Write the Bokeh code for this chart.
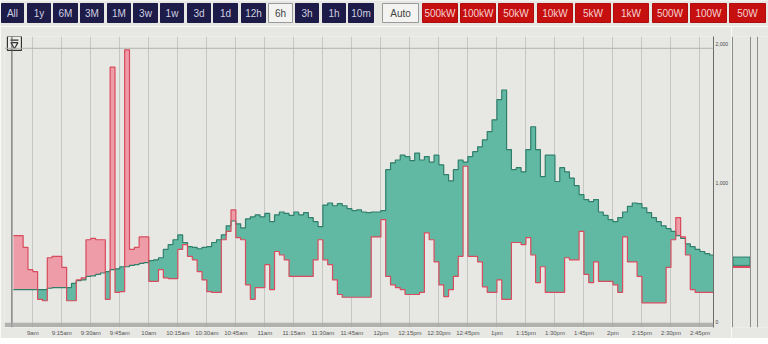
from bokeh.plotting import figure
from bokeh.layouts import column, row
from bokeh.models import Range1d, FixedTicker, Span, BoxAnnotation, NumeralTickFormatter
from bokeh.embed import file_html
from bokeh.resources import INLINE
from bokeh.core.properties import value

# ---------------- data ----------------
START_MIN = 530      # 08:50, minutes since midnight
STEP_MIN = 2.5       # sample interval (minutes)

# green series (W)
green_w = [
    230, 230, 230, 230, 230, 230, 230, 240, 245, 245,
    245, 245, 275, 295, 300, 325, 330, 340, 350, 360,
    375, 380, 395, 395, 405, 410, 420, 425, 440, 445,
    460, 520, 555, 590, 625, 570, 540, 535, 525, 535,
    540, 570, 590, 625, 690, 725, 705, 675, 740, 755,
    770, 755, 780, 720, 770, 790, 780, 765, 790, 770,
    785, 750, 720, 685, 840, 855, 835, 850, 835, 815,
    800, 805, 790, 785, 790, 790, 800, 1095, 1145, 1165,
    1200, 1190, 1160, 1215, 1165, 1190, 1150, 1200, 1130, 1060,
    1015, 1095, 1165, 1150, 1190, 1225, 1260, 1310, 1370, 1455,
    1600, 1670, 1240, 1095, 1110, 1080, 1240, 1405, 1240, 1045,
    1200, 1200, 1010, 1110, 1080, 1035, 980, 915, 880, 865,
    880, 790, 765, 735, 720, 750, 790, 830, 855, 850,
    820, 785, 750, 720, 690, 670, 650, 620, 600, 560,
    540, 520, 505, 490, 480]

# red series (W)
red_w = [
    620, 620, 535, 375, 360, 160, 150, 460, 470, 470,
    390, 150, 150, 300, 315, 590, 600, 590, 590, 160,
    1835, 210, 215, 1960, 520, 535, 610, 610, 290, 290,
    375, 315, 310, 310, 520, 555, 470, 445, 360, 300,
    215, 210, 210, 590, 650, 805, 605, 590, 265, 160,
    245, 245, 410, 230, 505, 480, 445, 325, 325, 325,
    325, 325, 445, 590, 445, 410, 300, 195, 175, 175,
    175, 175, 175, 175, 610, 610, 735, 325, 265, 245,
    230, 195, 195, 195, 210, 640, 590, 430, 265, 180,
    230, 325, 470, 1120, 470, 470, 430, 250, 210, 210,
    300, 160, 160, 570, 570, 555, 605, 480, 280, 395,
    210, 210, 210, 210, 460, 445, 445, 650, 340, 280,
    430, 290, 290, 290, 265, 210, 610, 430, 430, 325,
    135, 135, 135, 135, 135, 390, 590, 750, 610, 480,
    230, 210, 210, 210, 210]

current_green = 465
current_red = 405

tick_minutes = [540 + 15 * k for k in range(24)]
tick_labels = ["9am", "9:15am", "9:30am", "9:45am", "10am", "10:15am", "10:30am", "10:45am",
               "11am", "11:15am", "11:30am", "11:45am", "12pm", "12:15pm", "12:30pm", "12:45pm",
               "1pm", "1:15pm", "1:30pm", "1:45pm", "2pm", "2:15pm", "2:30pm", "2:45pm"]
y_ticks = [0, 1000, 2000]

nav_labels = ["All", "1y", "6M", "3M", "1M", "3w", "1w", "3d", "1d", "12h", "6h", "3h", "1h", "10m"]
nav_selected = "6h"
power_labels = ["Auto", "500kW", "100kW", "50kW", "10kW", "5kW", "1kW", "500W", "100W", "50W"]

# ---------------- styling ----------------
BG = "#e7e7e4"
GREEN_FILL = "#62b9a3"
GREEN_LINE = "#2f7f6b"
RED_FILL = "#ee9ca7"
RED_LINE = "#d84c5d"
FONT = "Liberation Sans"

# ---------------- top button bar ----------------
top = figure(width=768, height=26, x_range=Range1d(0, 768), y_range=Range1d(26, 0),
             output_backend="svg", toolbar_location=None, x_axis_type=None, y_axis_type=None,
             min_border=0, background_fill_color=BG, border_fill_color=BG, outline_line_color=None)
top.grid.visible = False

nav_left = [1, 27, 53, 80, 107, 133, 160, 187, 213, 241, 268, 295, 322, 348]
nav_right = [23, 50, 77, 103, 130, 157, 183, 210, 237, 265, 292, 318, 345, 373]
nav_fill = ["#f3f3f1" if l == nav_selected else "#1d1b47" for l in nav_labels]
nav_text = ["#444444" if l == nav_selected else "#cfcfe2" for l in nav_labels]
nav_line = ["#9a9a9a" if l == nav_selected else "#1d1b47" for l in nav_labels]
top.quad(left=nav_left, right=nav_right, top=[3] * len(nav_labels), bottom=[22] * len(nav_labels),
         fill_color=nav_fill, line_color=nav_line, line_width=1)
top.text(x=[(a + b) / 2 for a, b in zip(nav_left, nav_right)], y=[12.8] * len(nav_labels), text=nav_labels,
         text_color=nav_text, text_font=value(FONT), text_font_size="10px",
         text_align="center", text_baseline="middle")

pw_left = [382, 422, 460, 498, 537, 575, 613, 652, 690, 729]
pw_right = [418, 457, 495, 533, 572, 610, 648, 687, 726, 765]
pw_fill = ["#f3f3f1"] + ["#c5100f"] * (len(power_labels) - 1)
pw_text = ["#444444"] + ["#f6d0d0"] * (len(power_labels) - 1)
pw_line = ["#9a9a9a"] + ["#b00e0e"] * (len(power_labels) - 1)
top.quad(left=pw_left, right=pw_right, top=[3] * len(power_labels), bottom=[22] * len(power_labels),
         fill_color=pw_fill, line_color=pw_line, line_width=1)
top.text(x=[(a + b) / 2 for a, b in zip(pw_left, pw_right)], y=[12.8] * len(power_labels), text=power_labels,
         text_color=pw_text, text_font=value(FONT), text_font_size="10px",
         text_align="center", text_baseline="middle")

# ---------------- main chart ----------------
n = len(green_w)
t = [START_MIN + STEP_MIN * i for i in range(n)]
t_ext = t + [t[-1] + STEP_MIN]
g_ext = green_w + [green_w[-1]]
r_ext = red_w + [red_w[-1]]
top_g = [max(g, r) for g, r in zip(g_ext, r_ext)]

p = figure(width=731, height=312, x_range=Range1d(525.37, 892.0), y_range=Range1d(-43.1, 2056),
           y_axis_location="right", output_backend="svg", toolbar_location=None,
           min_border_left=4, min_border_right=15, min_border_top=10, min_border_bottom=10,
           background_fill_color=BG, border_fill_color=BG, outline_line_color=None)

# green where green is above red, red where red is above green
p.varea_step(x=t_ext, y1=r_ext, y2=top_g, step_mode="after", fill_color=GREEN_FILL)
p.varea_step(x=t_ext, y1=g_ext, y2=top_g, step_mode="after", fill_color=RED_FILL)

p.step(t_ext, g_ext, mode="after", line_color=GREEN_LINE, line_width=1.2)
p.step(t_ext, r_ext, mode="after", line_color=RED_LINE, line_width=1.2)

p.xaxis.ticker = FixedTicker(ticks=tick_minutes)
p.xaxis.major_label_overrides = {m: s for m, s in zip(tick_minutes, tick_labels)}
p.xaxis.major_label_text_font_size = "6px"
p.xaxis.major_label_text_font = FONT
p.xaxis.major_label_text_color = "#555555"
p.xaxis.major_label_standoff = 2
p.xaxis.major_tick_out = 0
p.xaxis.major_tick_in = 0
p.xaxis.minor_tick_out = 0
p.xaxis.axis_line_color = None

p.yaxis.ticker = FixedTicker(ticks=y_ticks)
p.yaxis.formatter = NumeralTickFormatter(format="0,0")
p.yaxis.major_label_text_font_size = "5px"
p.yaxis.major_label_text_font = FONT
p.yaxis.major_label_text_color = "#444444"
p.yaxis.major_label_standoff = 2
p.yaxis.major_tick_out = 0
p.yaxis.major_tick_in = 0
p.yaxis.minor_tick_out = 0
p.yaxis.minor_tick_in = 0
p.yaxis.axis_line_color = "#6a6a6a"

p.xgrid.grid_line_color = "#c6c6c3"
p.ygrid.visible = False

p.add_layout(Span(location=529.2, dimension="height", line_color="#555555", line_width=1))
p.add_layout(Span(location=1971, dimension="width", line_color="#b2b2af", line_width=1))
p.add_layout(BoxAnnotation(bottom=-40, top=-8, fill_color="#a4a4a2", fill_alpha=0.8, line_color=None))

# menu icon
p.rect(x=[530.5], y=[2007], width=14, height=14, width_units="screen", height_units="screen",
       fill_color="#ededea", line_color="#333333", line_width=1.2)
p.scatter(x=[530.5], y=[1997], marker="inverted_triangle", size=7, fill_color=None,
          line_color="#333333", line_width=1.2)
p.scatter(x=[530.5], y=[2030], marker="dash", size=8, line_color="#333333", line_width=1.2)

# ---------------- side current-value panel ----------------
side = figure(width=37, height=312, x_range=Range1d(0, 37), y_range=p.y_range,
              output_backend="svg", toolbar_location=None, x_axis_type=None, y_axis_type=None,
              min_border_left=0, min_border_right=0, min_border_top=10, min_border_bottom=10,
              background_fill_color=BG, border_fill_color=BG, outline_line_color=None)
side.grid.visible = False
for loc in (1, 19, 26):
    side.add_layout(Span(location=loc, dimension="height", line_color="#8c8c8a", line_width=1))
side.quad(left=[1.5], right=[18.5], bottom=[current_red], top=[current_green],
          fill_color=GREEN_FILL, line_color=GREEN_LINE, line_width=1)
side.segment(x0=[1.5], x1=[18.5], y0=[current_red - 12], y1=[current_red - 12],
             line_color=RED_LINE, line_width=2)

# ---------------- bottom strip ----------------
bottom = figure(width=768, height=6, x_range=Range1d(0, 768), y_range=Range1d(6, 0),
                output_backend="svg", toolbar_location=None, x_axis_type=None, y_axis_type=None,
                min_border=0, background_fill_color="#dededa", border_fill_color="#dededa",
                outline_line_color=None)
bottom.grid.visible = False
bottom.segment(x0=[20], x1=[720], y0=[0.8], y1=[0.8], line_color="#5f97bd", line_width=1.5)
bottom.quad(left=[22, 200, 383, 562], right=[28, 206, 389, 568], top=[2, 2, 2, 2], bottom=[6, 6, 6, 6],
            fill_color=None, line_color="#7a7a78", line_width=1)

layout = column(top, row(p, side), bottom)
open("out.html", "w").write(file_html(layout, INLINE))
